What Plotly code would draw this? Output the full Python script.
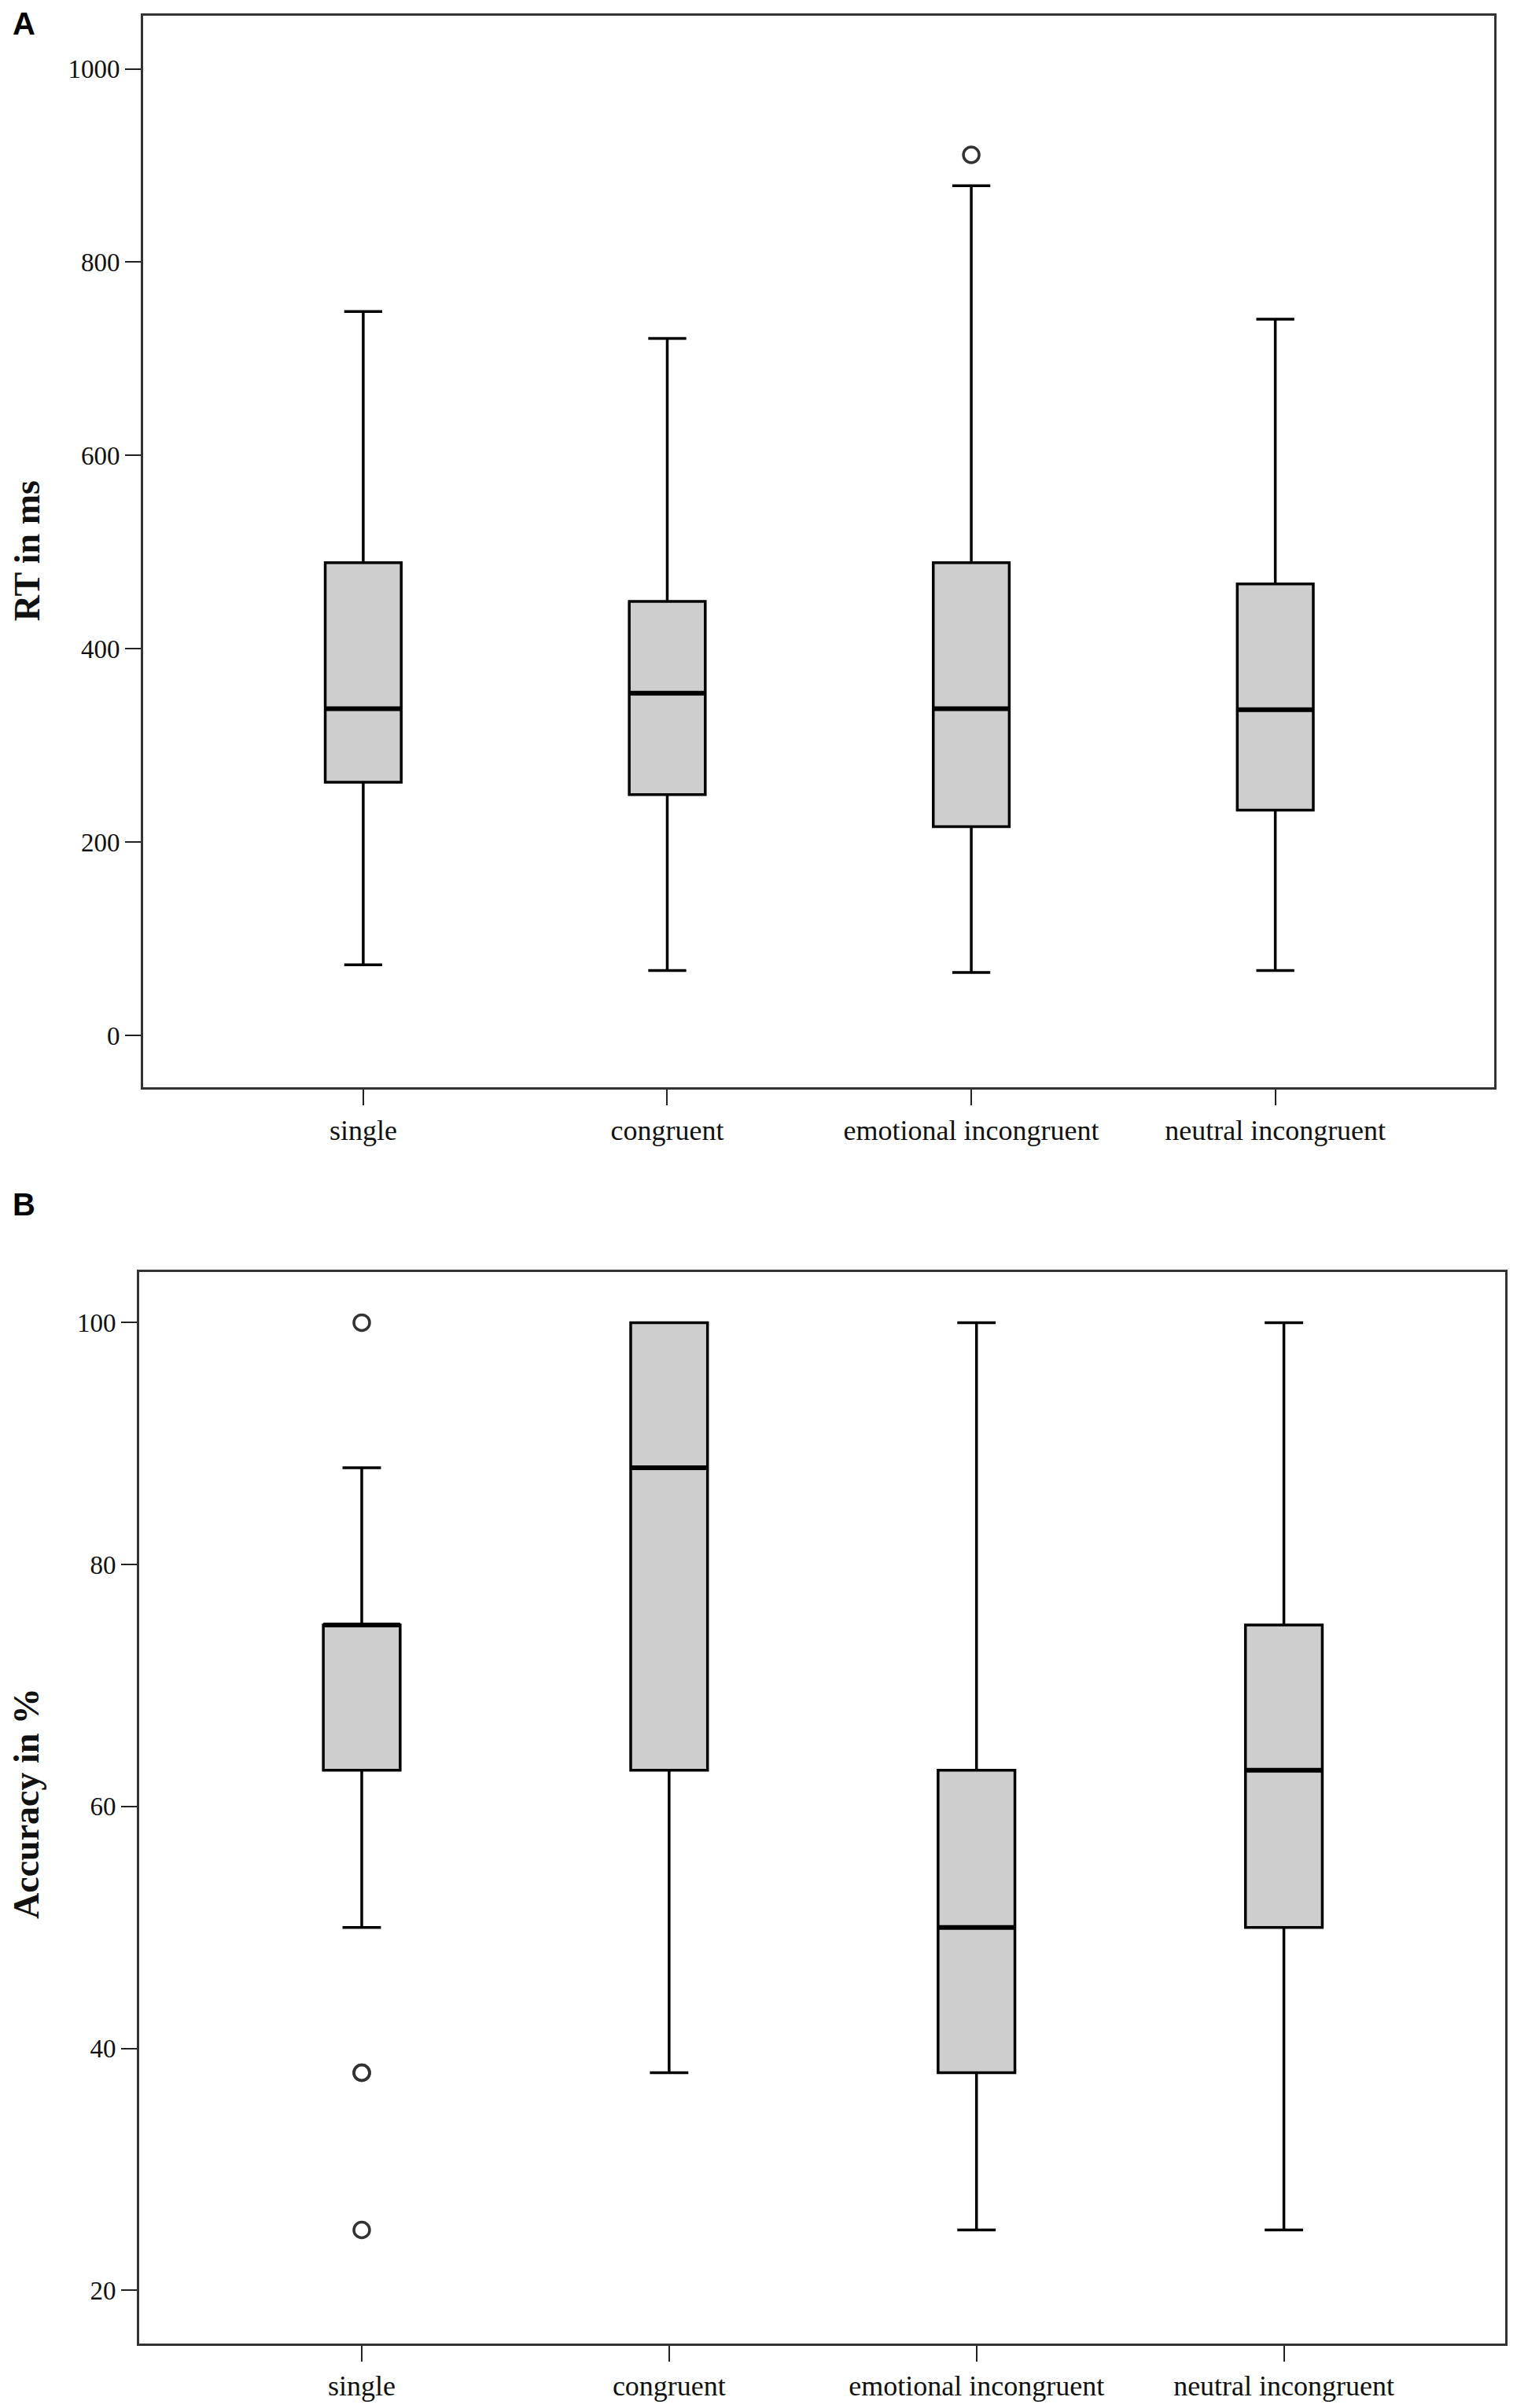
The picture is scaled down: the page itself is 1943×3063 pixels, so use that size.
import plotly.graph_objects as go

# categories on the x axis (same for both panels)
conditions = ["single", "congruent", "emotional incongruent", "neutral incongruent"]

# panel A - reaction times (ms)
rt_low = [73, 67, 65, 67]
rt_q1 = [262, 249, 216, 233]
rt_median = [338, 354, 338, 337]
rt_q3 = [489, 449, 489, 467]
rt_high = [749, 721, 879, 741]
rt_outlier_cond = [2]
rt_outlier_val = [911]
rt_ticks = [0, 200, 400, 600, 800, 1000]

# panel B - accuracy (%)
acc_low = [50, 38, 25, 25]
acc_q1 = [63, 63, 38, 50]
acc_median = [75, 88, 50, 63]
acc_q3 = [75, 100, 63, 75]
acc_high = [88, 100, 100, 100]
acc_outlier_cond = [0, 0, 0, 0]
acc_outlier_val = [100, 38, 38, 25]
acc_ticks = [20, 40, 60, 80, 100]

# page has an 8px body margin, so the figure is a bit smaller than the window
OFF = 8
W, H = 1943 - 2 * OFF, 3063 - 2 * OFF
BOX_W = 0.25
serif = "Liberation Serif"


def px(v):
    return (v - OFF) / W


def py(v):
    return 1 - (v - OFF) / H


fig = go.Figure()


def add_panel(fig, xa, ya, low, q1, med, q3, high, out_c, out_v):
    xs = list(range(len(conditions)))
    for i in xs:
        fig.add_trace(go.Box(
            x=[i], q1=[q1[i]], median=[med[i]], q3=[q3[i]],
            lowerfence=[low[i]], upperfence=[high[i]],
            width=BOX_W, whiskerwidth=0.5,
            fillcolor="#cecece", line=dict(color="black", width=3.5),
            boxpoints=False, hoverinfo="skip",
            xaxis=xa, yaxis=ya, showlegend=False))
    # thicker median bars like SPSS
    mx, my = [], []
    for i in xs:
        mx += [i - BOX_W / 2, i + BOX_W / 2, None]
        my += [med[i], med[i], None]
    fig.add_trace(go.Scatter(x=mx, y=my, mode="lines",
                             line=dict(color="black", width=6),
                             xaxis=xa, yaxis=ya, showlegend=False, hoverinfo="skip"))
    fig.add_trace(go.Scatter(x=out_c, y=out_v, mode="markers",
                             marker=dict(symbol="circle-open", size=20, color="#333333",
                                         line=dict(width=3.5, color="#333333")),
                             xaxis=xa, yaxis=ya, showlegend=False, hoverinfo="skip"))


add_panel(fig, "x", "y", rt_low, rt_q1, rt_median, rt_q3, rt_high, rt_outlier_cond, rt_outlier_val)
add_panel(fig, "x2", "y2", acc_low, acc_q1, acc_median, acc_q3, acc_high, acc_outlier_cond, acc_outlier_val)

xcommon = dict(tickmode="array", tickvals=list(range(len(conditions))), ticktext=conditions,
               range=[-0.724, 3.72], showline=True, mirror=True, linecolor="#333333", linewidth=3,
               ticks="outside", ticklen=20, tickwidth=2, tickcolor="#222222",
               showgrid=False, zeroline=False,
               tickfont=dict(family=serif, size=36, color="#111111"))
ycommon = dict(showline=True, mirror=True, linecolor="#333333", linewidth=3,
               ticks="outside", ticklen=20, tickwidth=2, tickcolor="#222222",
               showgrid=False, zeroline=False,
               tickfont=dict(family=serif, size=33, color="#111111"))

fig.update_layout(
    width=W, height=H,
    margin=dict(l=0, r=0, t=0, b=0),
    paper_bgcolor="white", plot_bgcolor="white",
    xaxis=dict(xcommon, domain=[px(182), px(1900)], anchor="y"),
    yaxis=dict(ycommon, domain=[py(1387), py(20)], anchor="x",
               tickvals=rt_ticks, range=[-54, 1055]),
    xaxis2=dict(xcommon, domain=[px(177), px(1914)], anchor="y2"),
    yaxis2=dict(ycommon, domain=[py(2989), py(1622)], anchor="x2",
                tickvals=acc_ticks, range=[15.6, 104.2]),
)

# axis titles and panel letters
fig.add_annotation(text="<b>RT in ms</b>", x=px(34), y=py(703), xref="paper", yref="paper",
                   textangle=-90, showarrow=False, xanchor="center", yanchor="middle",
                   font=dict(family=serif, size=46, color="#111111"))
fig.add_annotation(text="<b>Accuracy in %</b>", x=px(34), y=py(2300), xref="paper", yref="paper",
                   textangle=-90, showarrow=False, xanchor="center", yanchor="middle",
                   font=dict(family=serif, size=46, color="#111111"))
fig.add_annotation(text="<b>A</b>", x=px(14), y=py(6), xref="paper", yref="paper",
                   showarrow=False, xanchor="left", yanchor="top",
                   font=dict(family="Liberation Sans", size=40, color="black"))
fig.add_annotation(text="<b>B</b>", x=px(14), y=py(1512), xref="paper", yref="paper",
                   showarrow=False, xanchor="left", yanchor="top",
                   font=dict(family="Liberation Sans", size=40, color="black"))

fig.write_html("out.html")
